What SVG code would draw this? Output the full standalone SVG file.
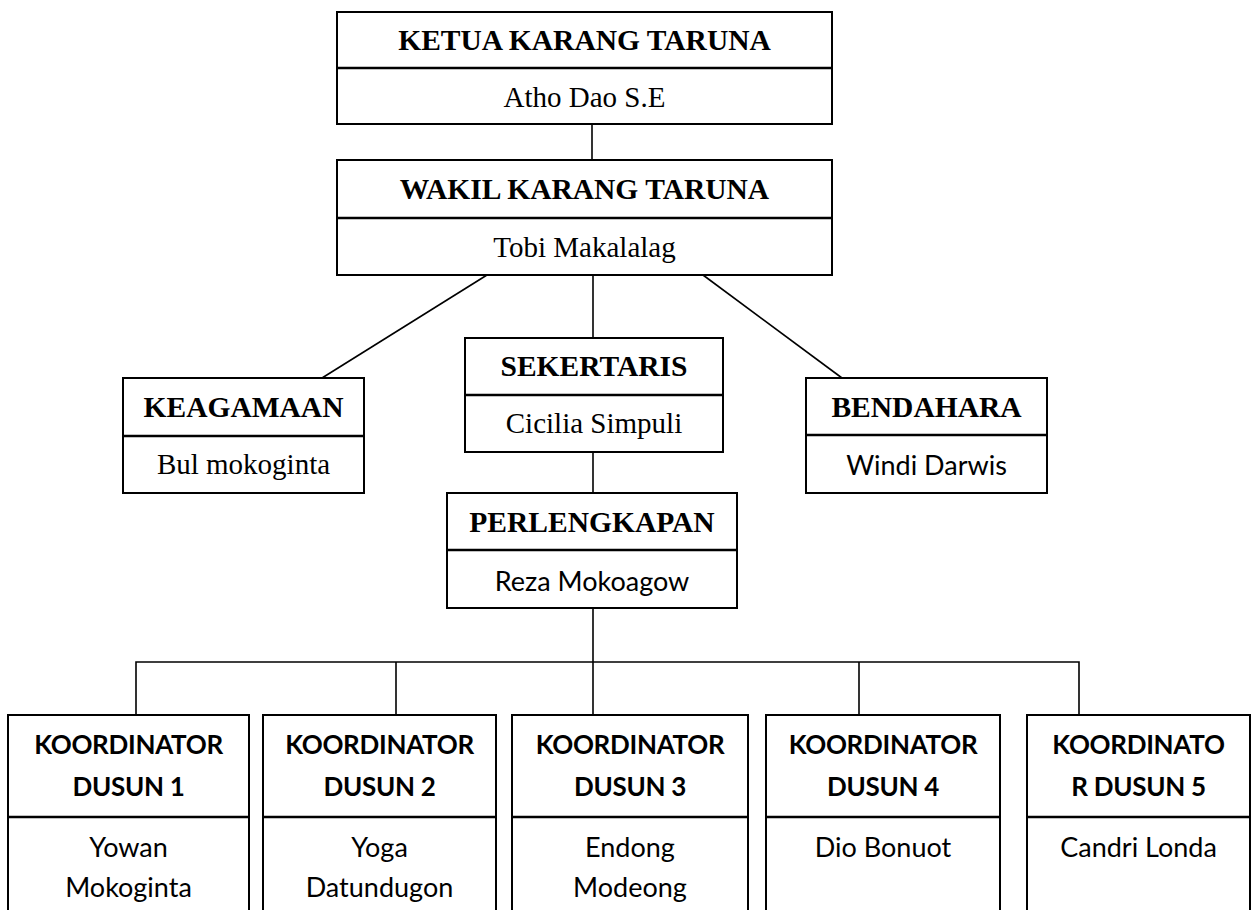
<svg xmlns="http://www.w3.org/2000/svg" width="1256" height="910" viewBox="0 0 1256 910">
<style>
.box{fill:#fff;stroke:#000;stroke-width:2}
.div{stroke:#000;stroke-width:2.5}
.con{stroke:#000;stroke-width:1.6;fill:none}
.tb{font-family:"Liberation Serif",serif;font-weight:bold;font-size:29.5px;text-anchor:middle;fill:#000}
.tr{font-family:"Liberation Serif",serif;font-size:29px;text-anchor:middle;fill:#000}
.sb{font-family:Lato,"Liberation Sans",sans-serif;font-weight:bold;font-size:26px;letter-spacing:-0.3px;text-anchor:middle;fill:#000}
.sr{font-family:Lato,"Liberation Sans",sans-serif;font-size:27px;text-anchor:middle;fill:#000}
</style>
<rect width="1256" height="910" fill="#fff"/>
<g id="connectors">
<line class="con" x1="592" y1="124" x2="592" y2="160"/>
<line class="con" x1="487" y1="275" x2="322" y2="378"/>
<line class="con" x1="593" y1="275" x2="593" y2="338"/>
<line class="con" x1="703" y1="275" x2="842" y2="378"/>
<line class="con" x1="593" y1="452" x2="593" y2="493"/>
<line class="con" x1="593" y1="608" x2="593" y2="715"/>
<polyline class="con" points="136,715 136,662 1079,662 1079,715"/>
<line class="con" x1="396" y1="662" x2="396" y2="715"/>
<line class="con" x1="859" y1="662" x2="859" y2="715"/>
</g>
<g id="ketua">
<rect class="box" x="337" y="12" width="495" height="112"/>
<line class="div" x1="337" y1="68" x2="832" y2="68"/>
<text class="tb" x="584.5" y="50">KETUA KARANG TARUNA</text>
<text class="tr" x="584.5" y="107">Atho Dao S.E</text>
</g>
<g id="wakil">
<rect class="box" x="337" y="160" width="495" height="115"/>
<line class="div" x1="337" y1="218" x2="832" y2="218"/>
<text class="tb" x="584.5" y="199">WAKIL KARANG TARUNA</text>
<text class="tr" x="584.5" y="257">Tobi Makalalag</text>
</g>
<g id="keagamaan">
<rect class="box" x="123" y="378" width="241" height="115"/>
<line class="div" x1="123" y1="436" x2="364" y2="436"/>
<text class="tb" x="243.5" y="417">KEAGAMAAN</text>
<text class="tr" x="243.5" y="474">Bul mokoginta</text>
</g>
<g id="sekertaris">
<rect class="box" x="465" y="338" width="258" height="114"/>
<line class="div" x1="465" y1="395" x2="723" y2="395"/>
<text class="tb" x="594" y="376">SEKERTARIS</text>
<text class="tr" x="594" y="433">Cicilia Simpuli</text>
</g>
<g id="bendahara">
<rect class="box" x="806" y="378" width="241" height="115"/>
<line class="div" x1="806" y1="435" x2="1047" y2="435"/>
<text class="tb" x="926.5" y="417">BENDAHARA</text>
<text class="sr" x="926.5" y="475">Windi Darwis</text>
</g>
<g id="perlengkapan">
<rect class="box" x="447" y="493" width="290" height="115"/>
<line class="div" x1="447" y1="550" x2="737" y2="550"/>
<text class="tb" x="592" y="532">PERLENGKAPAN</text>
<text class="sr" x="592" y="591">Reza Mokoagow</text>
</g>
<g id="dusun1">
<rect class="box" x="8" y="715" width="241" height="220"/>
<line class="div" x1="8" y1="817" x2="249" y2="817"/>
<text class="sb" x="128.5" y="754">KOORDINATOR</text>
<text class="sb" x="128.5" y="796">DUSUN 1</text>
<text class="sr" x="128.5" y="857">Yowan</text>
<text class="sr" x="128.5" y="897">Mokoginta</text>
</g>
<g id="dusun2">
<rect class="box" x="263" y="715" width="233" height="220"/>
<line class="div" x1="263" y1="817" x2="496" y2="817"/>
<text class="sb" x="379.5" y="754">KOORDINATOR</text>
<text class="sb" x="379.5" y="796">DUSUN 2</text>
<text class="sr" x="379.5" y="857">Yoga</text>
<text class="sr" x="379.5" y="897">Datundugon</text>
</g>
<g id="dusun3">
<rect class="box" x="512" y="715" width="236" height="220"/>
<line class="div" x1="512" y1="817" x2="748" y2="817"/>
<text class="sb" x="630" y="754">KOORDINATOR</text>
<text class="sb" x="630" y="796">DUSUN 3</text>
<text class="sr" x="630" y="857">Endong</text>
<text class="sr" x="630" y="897">Modeong</text>
</g>
<g id="dusun4">
<rect class="box" x="766" y="715" width="234" height="220"/>
<line class="div" x1="766" y1="817" x2="1000" y2="817"/>
<text class="sb" x="883" y="754">KOORDINATOR</text>
<text class="sb" x="883" y="796">DUSUN 4</text>
<text class="sr" x="883" y="857">Dio Bonuot</text>
</g>
<g id="dusun5">
<rect class="box" x="1027" y="715" width="223" height="220"/>
<line class="div" x1="1027" y1="817" x2="1250" y2="817"/>
<text class="sb" x="1138.5" y="754">KOORDINATO</text>
<text class="sb" x="1138.5" y="796">R DUSUN 5</text>
<text class="sr" x="1138.5" y="857">Candri Londa</text>
</g>
</svg>
